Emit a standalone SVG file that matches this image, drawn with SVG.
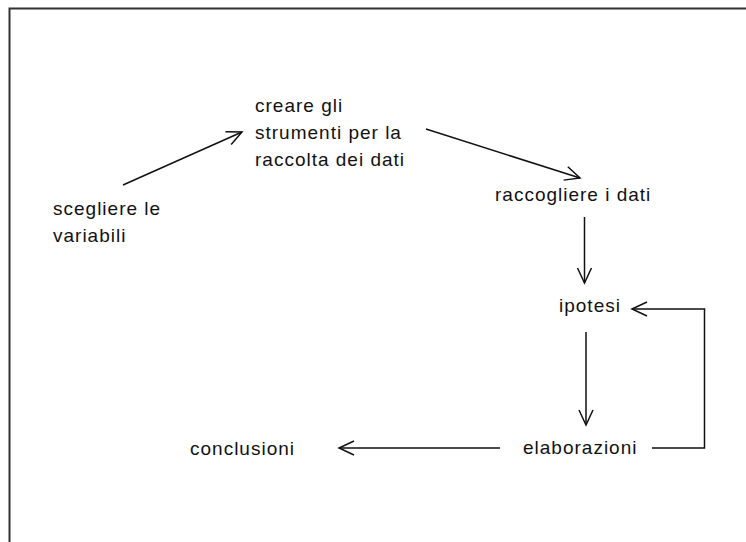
<svg xmlns="http://www.w3.org/2000/svg" width="746" height="542" viewBox="0 0 746 542">
<defs>
<style>
.t{font-family:"Liberation Sans",Arial,sans-serif;font-size:19px;letter-spacing:1px;fill:#111}
.c{stroke:#111;stroke-width:1.5;fill:none}
</style>
<marker id="ah" markerUnits="userSpaceOnUse" markerWidth="20" markerHeight="20" viewBox="-17 -10 20 20" refX="0" refY="0" orient="auto">
<path d="M-15,-7 L0,0 L-15,7" fill="none" stroke="#111" stroke-width="1.5"/>
</marker>
</defs>
<rect width="746" height="542" fill="#fff"/>
<path d="M9.5,542 V8.5 H746" fill="none" stroke="#333" stroke-width="2"/>
<g id="connectors">
<line class="c" x1="123" y1="185" x2="242" y2="132" marker-end="url(#ah)"/>
<line class="c" x1="426" y1="129" x2="580" y2="178" marker-end="url(#ah)"/>
<line class="c" x1="584.5" y1="217" x2="584.5" y2="283" marker-end="url(#ah)"/>
<line class="c" x1="586" y1="332" x2="586" y2="425" marker-end="url(#ah)"/>
<line class="c" x1="500" y1="448" x2="339" y2="448" marker-end="url(#ah)"/>
<polyline class="c" points="652,448 704.5,448 704.5,309 632,309" marker-end="url(#ah)"/>
</g>
<g id="creare"><text class="t" x="255" y="112">creare gli</text><text class="t" x="255" y="139">strumenti per la</text><text class="t" x="255" y="166">raccolta dei dati</text></g>
<g id="scegliere"><text class="t" x="53" y="215">scegliere le</text><text class="t" x="53" y="242">variabili</text></g>
<g id="raccogliere"><text class="t" x="495" y="201">raccogliere i dati</text></g>
<g id="ipotesi"><text class="t" x="559" y="312">ipotesi</text></g>
<g id="elaborazioni"><text class="t" x="523" y="454">elaborazioni</text></g>
<g id="conclusioni"><text class="t" x="190" y="455">conclusioni</text></g>
</svg>
